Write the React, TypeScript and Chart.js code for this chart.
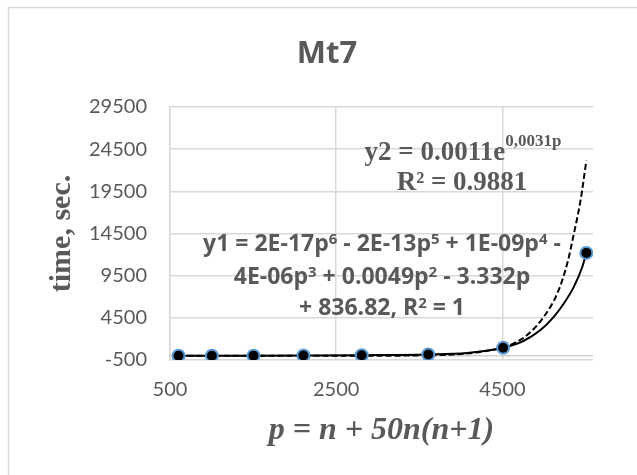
import React, { useEffect, useRef } from "react";
import { Chart, registerables } from "chart.js";

Chart.register(...registerables);

// Measured points: p = n + 50n(n+1), n = 3..10
const pValues = [603, 1004, 1505, 2106, 2807, 3608, 4509, 5510];
const timeValues = [2, 6, 15, 35, 70, 150, 950, 12200];

// Polynomial trendline (solid)
const polyTrendP = [603, 1004, 1505, 2106, 2807, 3608, 4075, 4509, 4757, 4958, 5118, 5239, 5359, 5461, 5510];
const polyTrendTime = [2, 6, 15, 35, 70, 150, 330, 950, 1785, 3050, 4620, 6200, 8170, 10530, 12200];

// Exponential trendline (dashed)
const expTrendP = [603, 1505, 2807, 3608, 4075, 4509, 4637, 4798, 4998, 5160, 5280, 5360, 5440, 5510];
const expTrendTime = [0, 0, 5, 60, 270, 1000, 1480, 2460, 4620, 7390, 10930, 14480, 18420, 23140];

const xTickValues = [500, 2500, 4500];
const yTickValues = [-500, 4500, 9500, 14500, 19500, 24500, 29500];

const chartTitle = "Mt7";
const xAxisTitle = "p = n + 50n(n+1)";
const yAxisTitle = "time, sec.";
const expEqLine1: [string, boolean][] = [["y2 = 0.0011e", false], ["0,0031p", true]];
const expEqLine2 = "R² = 0.9881";
const polyEqLines: [string, boolean][][] = [
  [["y1 = 2E-17p", false], ["6", true], [" - 2E-13p", false], ["5", true], [" + 1E-09p", false], ["4", true], [" -", false]],
  [["4E-06p", false], ["3", true], [" + 0.0049p", false], ["2", true], [" - 3.332p", false]],
  [["+ 836.82, R", false], ["2", true], [" = 1", false]],
];

const GRAY = "#595959";
const GRID = "#d9d9d9";
const SANS = 'Lato, "Open Sans", "Liberation Sans", sans-serif';
const BOLDSANS = '"Open Sans", "Noto Sans", "Liberation Sans", sans-serif';
const SERIF = '"Liberation Serif", "Times New Roman", serif';

function drawRuns(
  ctx: CanvasRenderingContext2D,
  runs: [string, boolean][],
  cx: number,
  baseY: number,
  font: string,
  supFont: string,
  rise: number
) {
  let total = 0;
  const widths = runs.map(([t, sup]) => {
    ctx.font = sup ? supFont : font;
    const w = ctx.measureText(t).width;
    total += w;
    return w;
  });
  let x = cx - total / 2;
  ctx.textAlign = "left";
  ctx.textBaseline = "alphabetic";
  runs.forEach(([t, sup], i) => {
    ctx.font = sup ? supFont : font;
    ctx.fillText(t, x, sup ? baseY - rise : baseY);
    x += widths[i];
  });
}

const decorPlugin = {
  id: "decor",
  beforeDraw(chart: any) {
    const ctx = chart.ctx as CanvasRenderingContext2D;
    ctx.save();
    ctx.fillStyle = "#ffffff";
    ctx.fillRect(0, 0, chart.width, chart.height);
    ctx.strokeStyle = GRID;
    ctx.lineWidth = 1.5;
    ctx.beginPath();
    ctx.moveTo(8.5, chart.height);
    ctx.lineTo(8.5, 7.5);
    ctx.lineTo(chart.width, 7.5);
    ctx.stroke();
    ctx.restore();
  },
  beforeDatasetsDraw(chart: any) {
    const ctx = chart.ctx as CanvasRenderingContext2D;
    const { chartArea, scales } = chart;
    const py = scales.y.getPixelForValue(0);
    ctx.save();
    ctx.strokeStyle = "#cfcfcf";
    ctx.lineWidth = 1.5;
    ctx.beginPath();
    ctx.moveTo(chartArea.left, py);
    ctx.lineTo(chartArea.right, py);
    ctx.stroke();
    ctx.restore();
  },
  afterDraw(chart: any) {
    const ctx = chart.ctx as CanvasRenderingContext2D;
    ctx.save();
    ctx.fillStyle = GRAY;
    // title
    ctx.font = `bold 31px ${BOLDSANS}`;
    ctx.textAlign = "center";
    ctx.textBaseline = "alphabetic";
    ctx.fillText(chartTitle, 327, 63);
    // exponential equation
    drawRuns(ctx, expEqLine1, 463, 160, `bold 27px ${SERIF}`, `bold 17px ${SERIF}`, 14);
    ctx.font = `bold 27px ${SERIF}`;
    ctx.textAlign = "center";
    ctx.fillText(expEqLine2, 462, 190);
    // polynomial equation
    const baselines = [251, 283.5, 315];
    polyEqLines.forEach((line, i) => {
      drawRuns(ctx, line, 382, baselines[i], `bold 23px ${BOLDSANS}`, `bold 15px ${BOLDSANS}`, 7);
    });
    ctx.restore();
  },
};

export default function App() {
  const canvasRef = useRef<HTMLCanvasElement | null>(null);

  useEffect(() => {
    if (!canvasRef.current) return;
    const points = pValues.map((p, i) => ({ x: p, y: timeValues[i] }));
    const poly = polyTrendP.map((p, i) => ({ x: p, y: polyTrendTime[i] }));
    const expo = expTrendP.map((p, i) => ({ x: p, y: expTrendTime[i] }));

    const chart = new Chart(canvasRef.current, {
      type: "scatter",
      data: {
        datasets: [
          {
            label: "time",
            data: points,
            showLine: false,
            pointRadius: 6,
            pointBackgroundColor: "#000000",
            pointBorderColor: "#5b9bd5",
            pointBorderWidth: 2,
          },
          {
            label: "poly",
            data: poly,
            showLine: true,
            pointRadius: 0,
            borderColor: "#000000",
            borderWidth: 2,
            cubicInterpolationMode: "monotone",
          },
          {
            label: "expo",
            data: expo,
            showLine: true,
            pointRadius: 0,
            borderColor: "#000000",
            borderWidth: 2,
            borderDash: [6, 3],
            cubicInterpolationMode: "monotone",
          },
        ],
      },
      options: {
        responsive: false,
        animation: false,
        devicePixelRatio: 1,
        layout: { padding: { top: 107, right: 44, bottom: 0, left: 0 } },
        plugins: {
          legend: { display: false },
          tooltip: { enabled: false },
          title: { display: false },
        },
        scales: {
          x: {
            type: "linear",
            min: 500,
            max: 5590,
            afterBuildTicks: (scale: any) => {
              scale.ticks = xTickValues.map((v) => ({ value: v }));
            },
            afterFit: (scale: any) => {
              scale.height = 115;
            },
            grid: { color: GRID, lineWidth: 1.5, drawTicks: false },
            border: { display: false },
            ticks: {
              padding: 18,
              color: GRAY,
              font: { family: SANS, size: 20 },
              callback: (v: any) => String(v),
            },
            title: {
              display: true,
              text: xAxisTitle,
              color: GRAY,
              font: { family: SERIF, size: 32, style: "italic", weight: "bold" },
              padding: { top: 0, bottom: 25 },
            },
          },
          y: {
            type: "linear",
            min: -500,
            max: 29500,
            afterBuildTicks: (scale: any) => {
              scale.ticks = yTickValues.map((v) => ({ value: v }));
            },
            afterFit: (scale: any) => {
              scale.width = 170;
            },
            grid: { color: GRID, lineWidth: 1.5, drawTicks: false },
            border: { display: true, color: GRID, width: 1.5 },
            ticks: {
              padding: 23,
              color: GRAY,
              font: { family: SANS, size: 20 },
              callback: (v: any) => String(v),
            },
            title: {
              display: true,
              text: yAxisTitle,
              color: GRAY,
              font: { family: SERIF, size: 30, weight: "bold" },
              padding: { top: 44, bottom: 0 },
            },
          },
        },
      } as any,
      plugins: [decorPlugin],
    });
    return () => chart.destroy();
  }, []);

  return (
    <div style={{ position: "absolute", left: 0, top: 0, width: 637, height: 475 }}>
      <canvas ref={canvasRef} width={637} height={475} style={{ display: "block" }} />
    </div>
  );
}
